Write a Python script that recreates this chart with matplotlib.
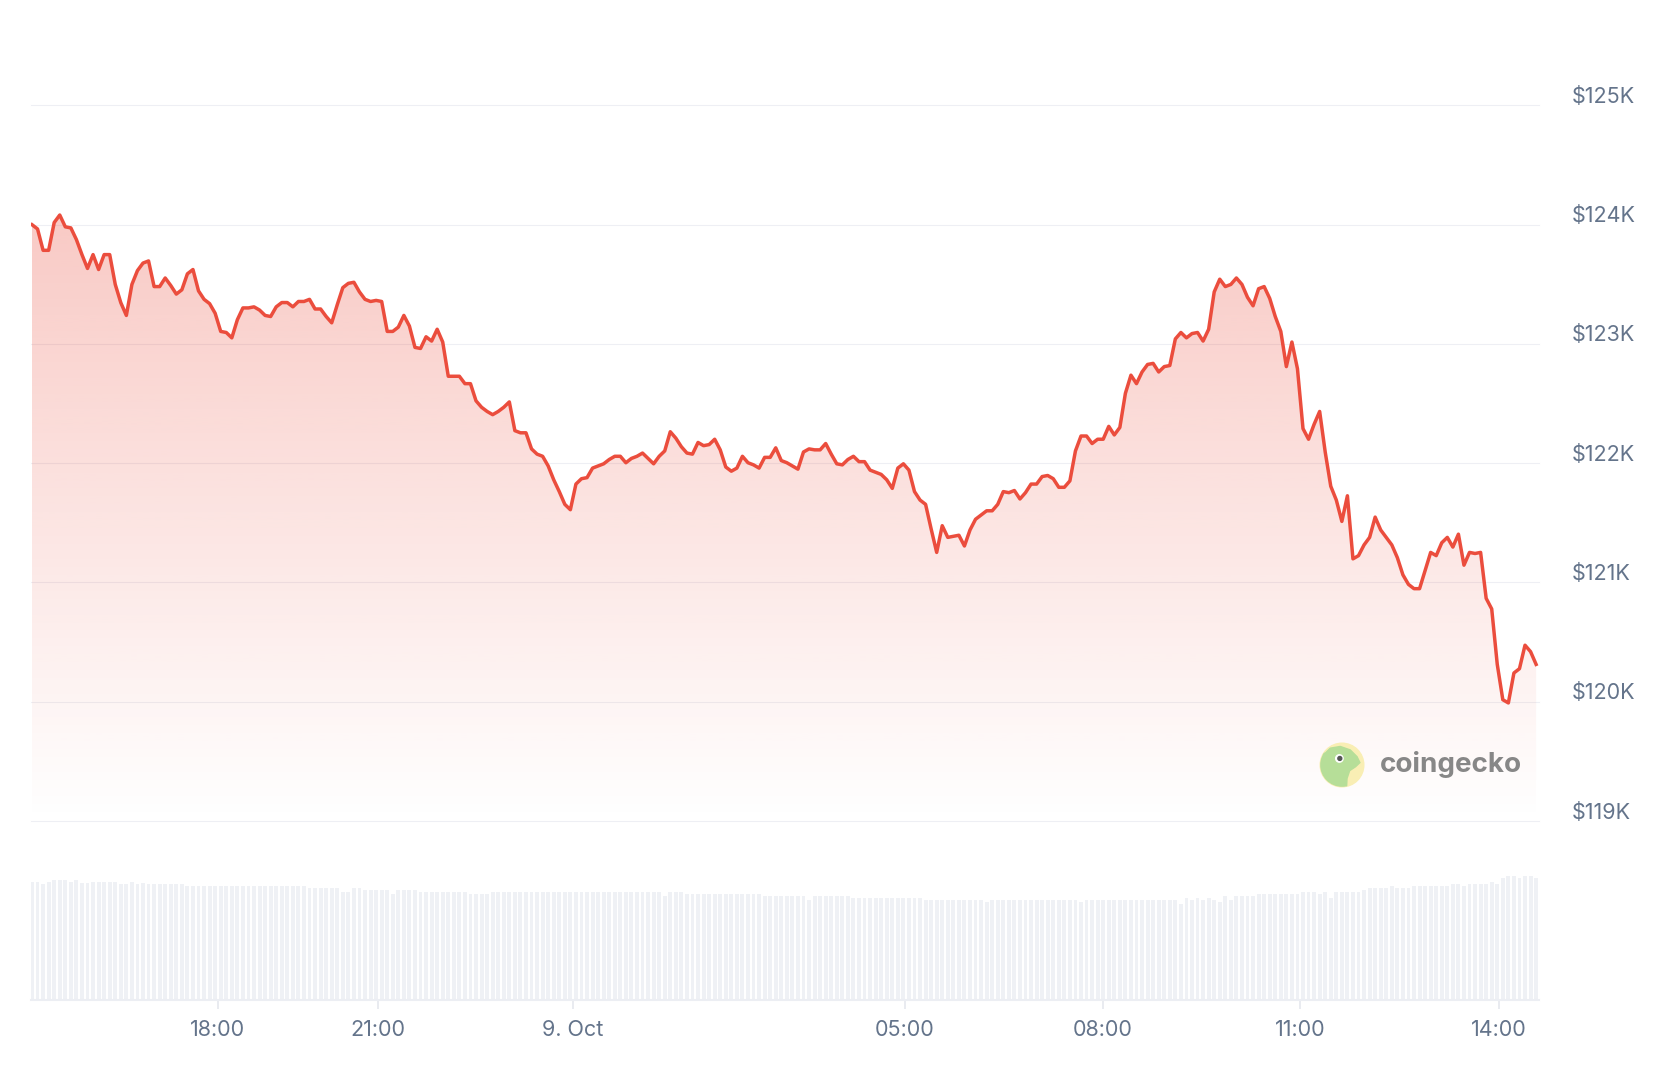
import numpy as np
import matplotlib.pyplot as plt
from matplotlib.patches import Circle, Polygon
from matplotlib.colors import to_rgb

# BTC price, 5 minute points (USD)
price = [
    124000, 123964, 123785, 123785, 124018, 124081, 123982, 123973, 123875, 123749,
    123633, 123749, 123624, 123749, 123749, 123499, 123346, 123239, 123499, 123615,
    123678, 123696, 123481, 123481, 123553, 123490, 123418, 123454, 123588, 123624,
    123445, 123374, 123338, 123257, 123105, 123096, 123051, 123203, 123302, 123302,
    123311, 123284, 123239, 123230, 123311, 123347, 123347, 123311, 123356, 123356,
    123374, 123293, 123293, 123230, 123177, 123329, 123472, 123508, 123517, 123436,
    123374, 123356, 123365, 123356, 123105, 123105, 123141, 123239, 123150, 122971,
    122962, 123060, 123024, 123123, 123016, 122729, 122729, 122729, 122667, 122667,
    122523, 122469, 122434, 122407, 122434, 122469, 122514, 122273, 122255, 122255,
    122120, 122076, 122058, 121977, 121861, 121762, 121655, 121610, 121825, 121870,
    121879, 121959, 121977, 121995, 122031, 122058, 122058, 122004, 122040, 122058,
    122085, 122040, 121995, 122058, 122103, 122264, 122210, 122138, 122085, 122076,
    122174, 122147, 122156, 122201, 122112, 121968, 121933, 121959, 122058, 122004,
    121986, 121959, 122049, 122049, 122129, 122022, 122004, 121977, 121950, 122094,
    122120, 122112, 122112, 122165, 122076, 121995, 121986, 122031, 122058, 122013,
    122013, 121942, 121924, 121906, 121861, 121789, 121959, 121995, 121942, 121762,
    121691, 121655, 121449, 121252, 121476, 121378, 121387, 121396, 121306, 121440,
    121530, 121566, 121601, 121601, 121655, 121762, 121753, 121771, 121700, 121753,
    121825, 121825, 121888, 121897, 121870, 121798, 121798, 121852, 122103, 122228,
    122228, 122165, 122201, 122201, 122309, 122237, 122300, 122586, 122738, 122667,
    122765, 122828, 122837, 122765, 122810, 122819, 123042, 123096, 123051, 123087,
    123096, 123024, 123123, 123436, 123543, 123481, 123499, 123553, 123499, 123391,
    123320, 123463, 123481, 123382, 123230, 123105, 122810, 123016, 122792, 122290,
    122201, 122326, 122434, 122094, 121807, 121691, 121512, 121727, 121198, 121225,
    121315, 121378, 121548, 121440, 121378, 121315, 121208, 121064, 120984, 120948,
    120948, 121100, 121252, 121225, 121333, 121378, 121297, 121405, 121145, 121252,
    121243, 121252, 120867, 120778, 120313, 120017, 119990, 120241, 120277, 120474,
    120420, 120313,
]

# 24h trading volume at each point (USD billions)
volume = [
    70.8, 70.8, 69.6, 70.8, 72.0, 72.0, 72.0, 70.8, 72.0, 70.2,
    70.2, 70.8, 70.8, 70.8, 70.8, 70.8, 69.6, 69.6, 70.8, 69.6,
    70.2, 69.6, 69.6, 69.6, 69.6, 69.6, 69.6, 69.6, 68.4, 68.4,
    68.4, 68.4, 68.4, 68.4, 68.4, 68.4, 68.4, 68.4, 68.4, 68.4,
    68.4, 68.4, 68.4, 68.4, 68.4, 68.4, 68.4, 68.4, 68.4, 68.4,
    67.2, 67.2, 67.2, 67.2, 67.2, 67.2, 64.8, 64.8, 67.2, 67.2,
    66.0, 66.0, 66.0, 66.0, 66.0, 63.6, 66.0, 66.0, 66.0, 66.0,
    64.8, 64.8, 64.8, 64.8, 64.8, 64.8, 64.8, 64.8, 64.8, 63.6,
    63.6, 63.6, 63.6, 64.8, 64.8, 64.8, 64.8, 64.8, 64.8, 64.8,
    64.8, 64.8, 64.8, 64.8, 64.8, 64.8, 64.8, 64.8, 64.8, 64.8,
    64.8, 64.8, 64.8, 64.8, 64.8, 64.8, 64.8, 64.8, 64.8, 64.8,
    64.8, 64.8, 64.8, 64.8, 62.4, 64.8, 64.8, 64.8, 63.6, 63.6,
    63.6, 63.6, 63.6, 63.6, 63.6, 63.6, 63.6, 63.6, 63.6, 63.6,
    63.6, 63.6, 62.4, 62.4, 62.4, 62.4, 62.4, 62.4, 62.4, 62.4,
    60.0, 62.4, 62.4, 62.4, 62.4, 62.4, 62.4, 62.4, 61.2, 61.2,
    61.2, 61.2, 61.2, 61.2, 61.2, 61.2, 61.2, 61.2, 61.2, 61.2,
    61.2, 60.0, 60.0, 60.0, 60.0, 60.0, 60.0, 60.0, 60.0, 60.0,
    60.0, 60.0, 58.8, 60.0, 60.0, 60.0, 60.0, 60.0, 60.0, 60.0,
    60.0, 60.0, 60.0, 60.0, 60.0, 60.0, 60.0, 60.0, 60.0, 58.8,
    60.0, 60.0, 60.0, 60.0, 60.0, 60.0, 60.0, 60.0, 60.0, 60.0,
    60.0, 60.0, 60.0, 60.0, 60.0, 60.0, 60.0, 57.6, 61.2, 60.0,
    61.2, 60.0, 61.2, 60.0, 58.8, 62.4, 60.0, 62.4, 62.4, 62.4,
    62.4, 63.6, 63.6, 63.6, 63.6, 63.6, 63.6, 63.6, 63.6, 64.8,
    64.8, 64.8, 63.6, 64.8, 61.2, 64.8, 64.8, 64.8, 64.8, 64.8,
    66.0, 67.2, 67.2, 67.2, 67.2, 68.4, 67.2, 67.2, 67.2, 68.4,
    68.4, 68.4, 68.4, 68.4, 68.4, 68.4, 69.6, 69.6, 68.4, 69.6,
    69.6, 69.6, 69.6, 70.8, 69.6, 73.2, 74.4, 74.4, 73.2, 74.4,
    74.4, 73.2,
]

price_ticks = [119000, 120000, 121000, 122000, 123000, 124000, 125000]
price_labels = ["$119K", "$120K", "$121K", "$122K", "$123K", "$124K", "$125K"]
time_labels = ["18:00", "21:00", "9. Oct", "05:00", "08:00", "11:00", "14:00"]
time_index = [33.5, 62.3, 97.5, 157.3, 192.9, 228.5, 264.3]

plt.rcParams['font.family'] = ['Inter', 'DejaVu Sans']

W, H = 1676, 1066
red = "#eb4d3d"
grid_c = "#eeeff4"
text_c = "#64748b"


def box(x0, y0, x1, y1):
    # pixel box (top-left origin) -> figure fraction
    return [x0 / W, 1 - y1 / H, (x1 - x0) / W, (y1 - y0) / H]


fig = plt.figure(figsize=(W / 100, H / 100), dpi=100)

# PRICE
ax = fig.add_axes(box(31, 10, 1539, 821))
xs = np.arange(len(price))
ymin, ymax = 119000, 125800

for v in price_ticks:
    ax.axhline(v, color=grid_c, lw=0.8, zorder=0.5, clip_on=False)

grad = np.zeros((256, 1, 4))
grad[..., :3] = to_rgb(red)
grad[:, 0, 3] = np.linspace(0.3, 0.0, 256)
img = ax.imshow(grad, extent=(xs[0], xs[-1], ymin, max(price)), aspect='auto',
                origin='upper', interpolation='bilinear', zorder=1)
area = ax.fill_between(xs, price, ymin, color='none', lw=0)
img.set_clip_path(area.get_paths()[0], transform=ax.transData)

ax.plot(xs, price, color=red, lw=2.5, zorder=3, solid_joinstyle='round')

for v, lab in zip(price_ticks, price_labels):
    ax.annotate(lab, xy=(1, v), xycoords=('axes fraction', 'data'),
                xytext=(23.6, 1.8), textcoords='offset points',
                ha='left', va='baseline', fontsize=15.5, color=text_c)

ax.set_xlim(-0.18, len(price) - 1 + 0.52)
ax.set_ylim(ymin, ymax)
ax.axis('off')

# VOLUME
axv = fig.add_axes(box(31, 870, 1539, 1000))
axv.bar(np.arange(len(volume)), volume, width=0.7, color='#eff1f5', zorder=1)
axv.axhline(0, color='#eceef3', lw=1.5, clip_on=False, zorder=2)
axv.set_xlim(-0.18, len(price) - 1 + 0.52)
axv.set_ylim(0, 78)
for s in axv.spines.values():
    s.set_visible(False)
axv.set_yticks([])
axv.set_xticks(time_index)
axv.tick_params(axis='x', length=6.5, width=1.4, color='#e9ebf0', labelbottom=False)
for t, lab in zip(time_index, time_labels):
    axv.annotate(lab, xy=(t, 0), xycoords=('data', 'axes fraction'),
                 xytext=(0, -25.8), textcoords='offset points',
                 ha='center', va='baseline', fontsize=15.5, color=text_c)

# WATERMARK
axl = fig.add_axes(box(1318, 741, 1366, 789))
axl.set_xlim(-1.1, 1.1)
axl.set_ylim(-1.1, 1.1)
axl.axis('off')
disc = Circle((0, 0), 1.0, color='#f9eeb4', zorder=1)
axl.add_patch(disc)
gecko = Polygon([(-1.2, 0.6), (-0.77, 0.54), (-0.54, 0.77), (-0.08, 0.85), (0.38, 0.69),
                 (0.69, 0.38), (0.82, 0.11), (0.62, -0.08), (0.35, -0.26), (0.23, -0.62),
                 (0.2, -1.2), (-1.2, -1.2)], closed=True, color='#b6de98', zorder=2)
axl.add_patch(gecko)
gecko.set_clip_path(disc)
axl.add_patch(Circle((-0.12, 0.3), 0.17, color='white', zorder=3))
axl.add_patch(Circle((-0.1, 0.3), 0.09, color='#555555', zorder=4))

fig.text(1380 / W, 1 - 772 / H, "coingecko", fontsize=20, fontweight='bold',
         color='#878787', ha='left', va='baseline')

fig.savefig("out.png", dpi=100)
